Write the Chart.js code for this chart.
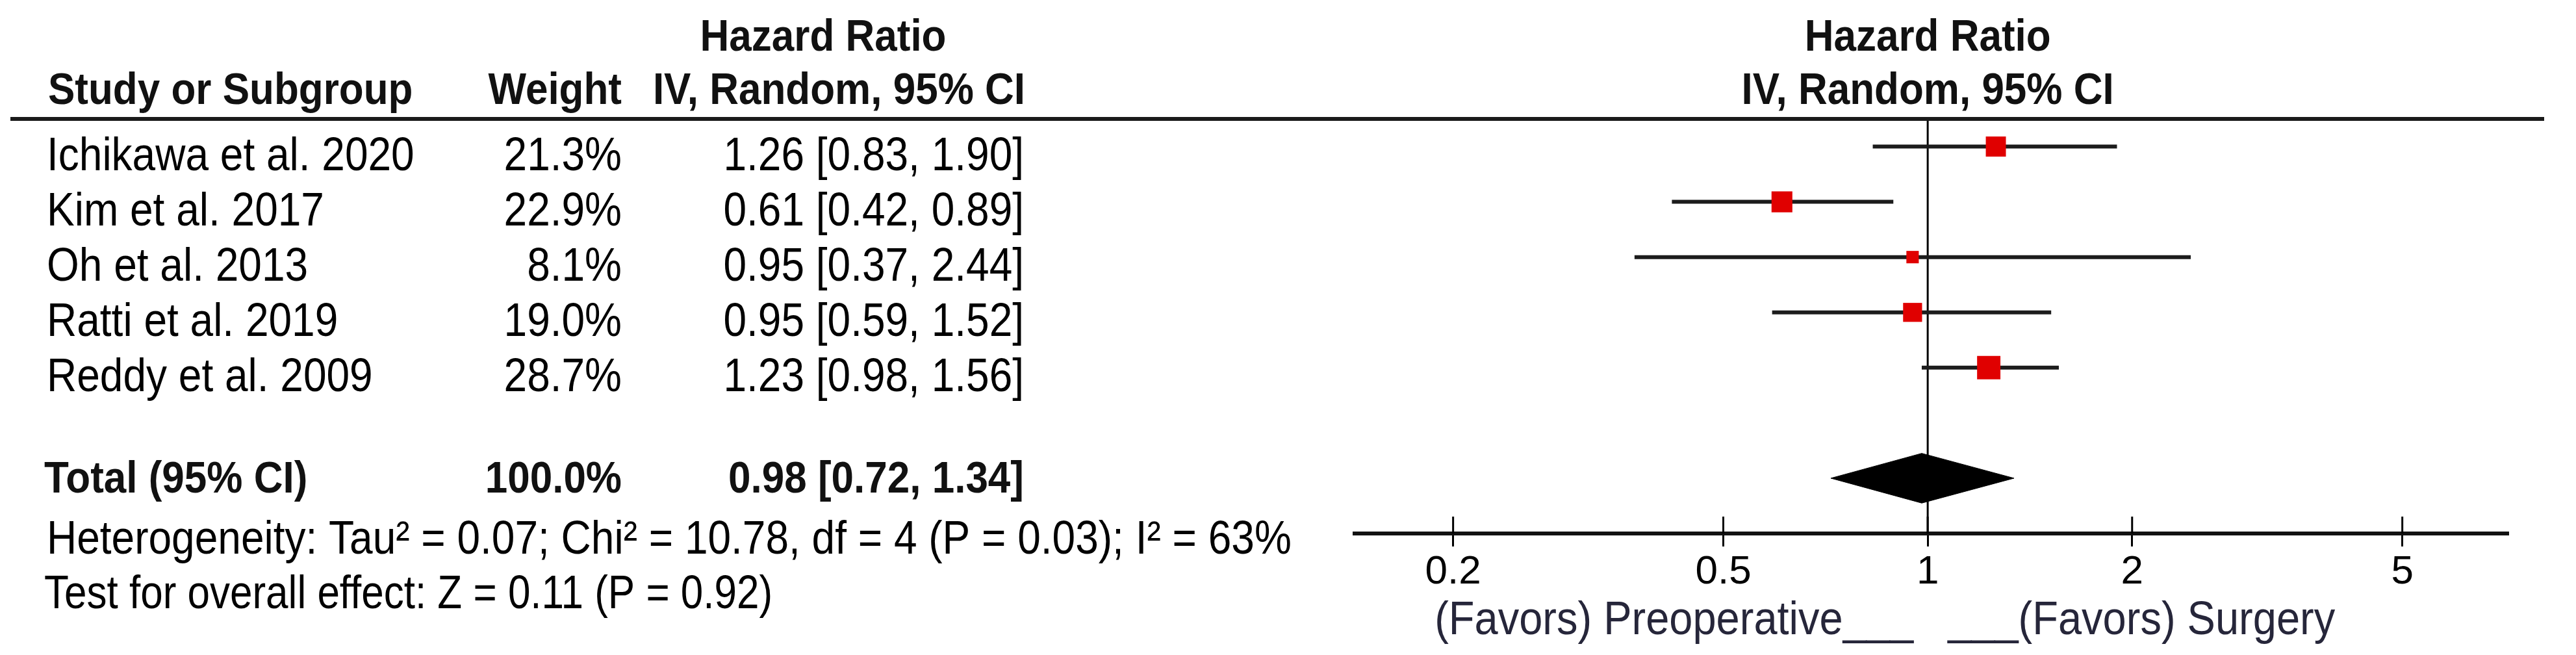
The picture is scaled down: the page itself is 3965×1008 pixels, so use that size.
<!DOCTYPE html>
<html><head><meta charset="utf-8">
<script src="https://cdn.jsdelivr.net/npm/chart.js@4.4.1/dist/chart.umd.min.js"></script>
<style>html,body{margin:0;padding:0;background:#fff;overflow:hidden}canvas{display:block}</style>
</head><body>
<canvas id="c" width="3965" height="1008"></canvas>
<script>
// ---- data ----
const studies = ["Ichikawa et al. 2020", "Kim et al. 2017", "Oh et al. 2013", "Ratti et al. 2019", "Reddy et al. 2009"];
const weights = [21.3, 22.9, 8.1, 19.0, 28.7];
const hazardRatios = [1.26, 0.61, 0.95, 0.95, 1.23];
const ciLower = [0.83, 0.42, 0.37, 0.59, 0.98];
const ciUpper = [1.90, 0.89, 2.44, 1.52, 1.56];
const totalLabel = "Total (95% CI)";
const totalWeight = 100.0;
const totalHR = 0.98;
const totalLower = 0.72;
const totalUpper = 1.34;
const tickValues = [0.2, 0.5, 1, 2, 5];
const tickLabels = ["0.2", "0.5", "1", "2", "5"];
const headerTitle = "Hazard Ratio";
const headerMethod = "IV, Random, 95% CI";
const headerStudy = "Study or Subgroup";
const headerWeight = "Weight";
const heterogeneityText = "Heterogeneity: Tau\u00B2 = 0.07; Chi\u00B2 = 10.78, df = 4 (P = 0.03); I\u00B2 = 63%";
const overallEffectText = "Test for overall effect: Z = 0.11 (P = 0.92)";
const favorsLeft = "(Favors) Preoperative___";
const favorsRight = "___(Favors) Surgery";

// ---- styling / layout ----
const FONT = '"Liberation Sans", Arial, sans-serif';
const totalRow = studies.length + 1;
const diamondHalf = 0.45;
const fmt = v => v.toFixed(2);
const ciText = (h, l, u) => fmt(h) + " [" + fmt(l) + ", " + fmt(u) + "]";

const datasets = [];
datasets.push({
  label: "studies",
  data: studies.map((s, i) => ({ x: hazardRatios[i], y: i })),
  pointStyle: "rect",
  pointRadius: weights.map(w => 4.74 * Math.sqrt(w)),
  backgroundColor: "#e00000",
  borderWidth: 0,
  order: 0,
  clip: false
});
studies.forEach((s, i) => {
  datasets.push({
    label: "ci" + i,
    data: [{ x: ciLower[i], y: i }, { x: ciUpper[i], y: i }],
    showLine: true, borderColor: "#1c1c1c", borderWidth: 6,
    pointRadius: 0, order: 1
  });
});
datasets.push({
  label: "diamondTop",
  data: [{ x: totalLower, y: totalRow }, { x: totalHR, y: totalRow - diamondHalf }, { x: totalUpper, y: totalRow }],
  showLine: true, borderColor: "#000", borderWidth: 1, backgroundColor: "#000",
  fill: "+1", pointRadius: 0, tension: 0, order: 2
});
datasets.push({
  label: "diamondBottom",
  data: [{ x: totalLower, y: totalRow }, { x: totalHR, y: totalRow + diamondHalf }, { x: totalUpper, y: totalRow }],
  showLine: true, borderColor: "#000", borderWidth: 1, backgroundColor: "#000",
  fill: false, pointRadius: 0, tension: 0, order: 2
});
datasets.push({
  label: "nullLine",
  data: [{ x: 1, y: -0.5 }, { x: 1, y: totalRow + 1 }],
  showLine: true, borderColor: "#000", borderWidth: 3, pointRadius: 0, order: 3
});

function txt(ctx, t, x, y, sy) {
  ctx.save();
  ctx.translate(x, y);
  ctx.scale(1, sy);
  ctx.fillText(t, 0, 0);
  ctx.restore();
}

const tablePlugin = {
  id: "forestTable",
  afterDraw(chart) {
    const ctx = chart.ctx;
    const xs = chart.scales.x, ys = chart.scales.y;
    const ca = chart.chartArea;
    const x1 = xs.getPixelForValue(1);
    const SB = 1.1, SR = 1.12;
    ctx.save();
    // top rule
    ctx.strokeStyle = "#1a1a1a"; ctx.lineWidth = 6;
    ctx.beginPath(); ctx.moveTo(16, ca.top); ctx.lineTo(3916, ca.top); ctx.stroke();
    // upper halves of tick marks
    ctx.strokeStyle = "#000"; ctx.lineWidth = 3;
    tickValues.forEach(v => {
      const px = xs.getPixelForValue(v);
      ctx.beginPath(); ctx.moveTo(px, ca.bottom - 26); ctx.lineTo(px, ca.bottom); ctx.stroke();
    });
    // headers
    ctx.fillStyle = "#111";
    ctx.font = "bold 62px " + FONT;
    ctx.textBaseline = "alphabetic";
    ctx.textAlign = "center";
    txt(ctx, headerTitle, 1267, 78, SB);
    txt(ctx, headerTitle, x1, 78, SB);
    txt(ctx, headerMethod, x1, 160, SB);
    ctx.textAlign = "left";
    txt(ctx, headerStudy, 74, 160, SB);
    ctx.textAlign = "right";
    txt(ctx, headerWeight, 957, 160, SB);
    txt(ctx, headerMethod, 1578, 160, SB);
    // study rows
    ctx.font = "64px " + FONT;
    ctx.fillStyle = "#000";
    studies.forEach((s, i) => {
      const by = ys.getPixelForValue(i) + 36;
      ctx.textAlign = "left";
      txt(ctx, s, 72, by, SR);
      ctx.textAlign = "right";
      txt(ctx, weights[i].toFixed(1) + "%", 957, by, SR);
      txt(ctx, ciText(hazardRatios[i], ciLower[i], ciUpper[i]), 1576, by, SR);
    });
    // total row
    ctx.font = "bold 62px " + FONT;
    ctx.fillStyle = "#111";
    const ty = ys.getPixelForValue(totalRow) + 22;
    ctx.textAlign = "left";
    txt(ctx, totalLabel, 68, ty, SB);
    ctx.textAlign = "right";
    txt(ctx, totalWeight.toFixed(1) + "%", 957, ty, SB);
    txt(ctx, ciText(totalHR, totalLower, totalUpper), 1576, ty, SB);
    // footnotes
    ctx.font = "64px " + FONT;
    ctx.fillStyle = "#000";
    ctx.textAlign = "left";
    txt(ctx, heterogeneityText, 72, 852, SR);
    ctx.font = "62px " + FONT;
    txt(ctx, overallEffectText, 68, 936, 1.15);
    // favours labels
    ctx.font = "65px " + FONT;
    ctx.fillStyle = "#26263a";
    ctx.textAlign = "right";
    txt(ctx, favorsLeft, x1 - 22, 976, SR);
    ctx.textAlign = "left";
    txt(ctx, favorsRight, x1 + 31, 976, SR);
    ctx.restore();
  }
};

new Chart(document.getElementById("c"), {
  type: "scatter",
  data: { datasets },
  options: {
    responsive: false,
    animation: false,
    devicePixelRatio: 1,
    events: [],
    layout: { padding: { left: 2085, right: 105, top: 183, bottom: 87 } },
    plugins: { legend: { display: false }, tooltip: { enabled: false } },
    scales: {
      x: {
        type: "logarithmic",
        position: "bottom",
        min: 0.1432,
        max: 7.15,
        afterBuildTicks: s => { s.ticks = tickValues.map(v => ({ value: v })); },
        afterFit: s => { s.height = 100; },
        ticks: {
          autoSkip: false, maxRotation: 0, minRotation: 0, padding: 3,
          color: "#000", font: { family: FONT, size: 62 },
          callback: v => { const k = tickValues.indexOf(v); return k >= 0 ? tickLabels[k] : ""; }
        },
        grid: { display: true, drawOnChartArea: false, drawTicks: true, tickLength: 20, color: "#000", lineWidth: 3 },
        border: { display: true, color: "#111", width: 6 }
      },
      y: {
        type: "linear", display: false, reverse: true, min: -0.5, max: totalRow + 1
      }
    }
  },
  plugins: [tablePlugin]
});
</script>
</body></html>
